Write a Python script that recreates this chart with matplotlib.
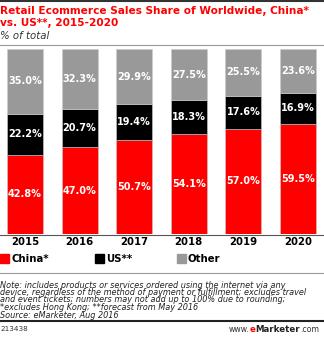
import matplotlib
matplotlib.use("Agg")
import matplotlib.pyplot as plt
import numpy as np
from matplotlib.patches import Rectangle
from matplotlib.lines import Line2D

# Data
years = ["2015", "2016", "2017", "2018", "2019", "2020"]
china = [42.8, 47.0, 50.7, 54.1, 57.0, 59.5]
us = [22.2, 20.7, 19.4, 18.3, 17.6, 16.9]
other = [35.0, 32.3, 29.9, 27.5, 25.5, 23.6]
series_names = ["China*", "US**", "Other"]
colours = ["#ff0000", "#000000", "#999999"]

W, H = 324, 339
fig = plt.figure(figsize=(W / 100, H / 100), dpi=100)


def fy(py):
    return 1 - py / H


def fx(px):
    return px / W


# Bar area
ax = fig.add_axes([0, fy(234), 1, (234 - 49) / H])
x = np.arange(len(years))
bottom = np.zeros(len(years))
for vals, col in zip([china, us, other], colours):
    vals = np.array(vals)
    ax.bar(x, vals, width=0.66, bottom=bottom, color=col,
           edgecolor="#cccccc", linewidth=0.4)
    for xi, b, v in zip(x, bottom, vals):
        ax.text(xi, b + v / 2, f"{v:.1f}%", ha="center", va="center",
                color="white", fontsize=7.0, fontweight="bold")
    bottom += vals
ax.set_xlim(-25 / 54.6, (324 - 25) / 54.6)
ax.set_ylim(0, 100)
ax.axis("off")

# Year labels
for xi, yr in zip(x, years):
    ax.text(xi, -4.5, yr, ha="center", va="center", fontsize=7.3,
            fontweight="bold", color="black")

# Baseline and rules
fig.add_artist(Line2D([0, 1], [fy(234.5)] * 2, color="#555555", lw=0.8))
fig.add_artist(Line2D([0, 1], [fy(0.5)] * 2, color="#333333", lw=1.5))
fig.add_artist(Line2D([0, 1], [fy(45)] * 2, color="#999999", lw=0.8))
fig.add_artist(Line2D([0, 1], [fy(273)] * 2, color="#999999", lw=0.8))
fig.add_artist(Line2D([0, 1], [fy(321)] * 2, color="#222222", lw=1.5))

# Title
fig.text(0, fy(10.5), "Retail Ecommerce Sales Share of Worldwide, China*",
         color="#ff0000", fontsize=7.6, fontweight="bold", va="center")
fig.text(0, fy(23), "vs. US**, 2015-2020",
         color="#ff0000", fontsize=7.6, fontweight="bold", va="center")
fig.text(0, fy(36), "% of total", color="#333333", fontsize=7.3,
         style="italic", va="center")

# Legend
for lx, name, col in zip([0, 95, 177], series_names, colours):
    fig.add_artist(Rectangle((fx(lx), fy(263)), fx(9), 9 / H,
                             color=col, transform=fig.transFigure))
    fig.text(fx(lx + 11), fy(258.5), name, fontsize=7.3, fontweight="bold",
             va="center")

# Notes
notes = [
    "Note: includes products or services ordered using the internet via any",
    "device, regardless of the method of payment or fulfillment; excludes travel",
    "and event tickets; numbers may not add up to 100% due to rounding;",
    "*excludes Hong Kong; **forecast from May 2016",
    "Source: eMarketer, Aug 2016",
]
for i, line in enumerate(notes):
    fig.text(0, fy(285 + 7.5 * i), line, fontsize=5.9, style="italic",
             color="#222222", va="center")

fig.text(0, fy(329), "213438", fontsize=5.2, color="#333333", va="center")

# Footer brand, laid out piece by piece
renderer = fig.canvas.get_renderer()
pieces = [("www.", "#333333", "normal", 5.6),
          ("e", "#ff0000", "bold", 6.2),
          ("Marketer", "#222222", "bold", 6.2),
          (".com", "#333333", "normal", 5.6)]
cur = fx(229)
for txt, col, wt, fs in pieces:
    t = fig.text(cur, fy(329), txt, color=col, fontweight=wt, fontsize=fs,
                 va="center")
    bb = t.get_window_extent(renderer)
    cur += bb.width / W

fig.savefig("out.png", dpi=100)
